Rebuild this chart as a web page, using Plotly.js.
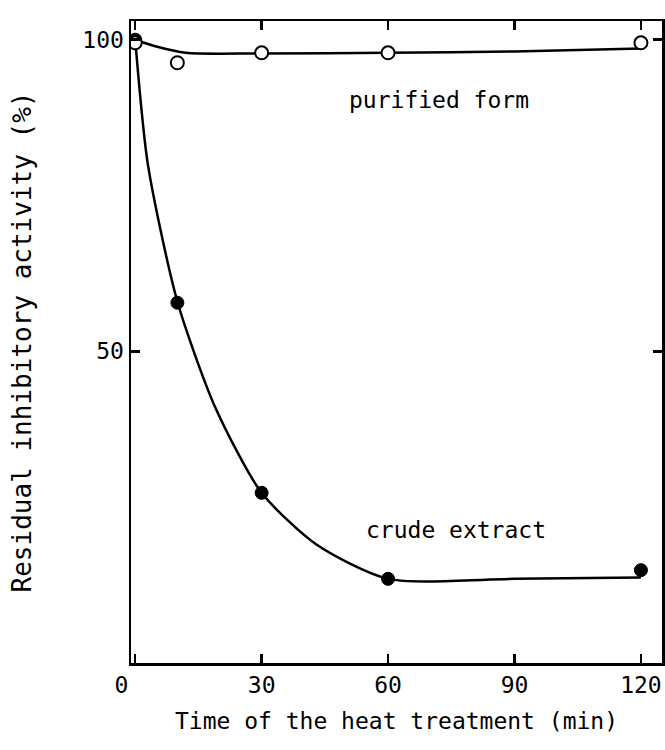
<!DOCTYPE html>
<html>
<head>
<meta charset="utf-8">
<script src="https://cdn.plot.ly/plotly-3.0.1.min.js"></script>
<style>
  html, body { margin: 0; padding: 0; background: #ffffff; }
  #chart { width: 665px; height: 750px; }
</style>
</head>
<body>
<div id="chart"></div>
<script>
// Measured points
const timeMin = [0, 10, 30, 60, 120];
const purifiedPct = [99.5, 96.3, 97.9, 97.9, 99.5];
const crudePct = [100, 57.8, 27.3, 13.5, 14.9];

// Hand-drawn fitted curves
const purifiedCurveX = [0, 5, 12, 30, 60, 90, 120];
const purifiedCurveY = [100, 98.9, 97.9, 97.8, 97.9, 98.1, 98.6];
const crudeCurveX = [0, 3, 10, 19, 30, 43, 60, 90, 120];
const crudeCurveY = [100, 80, 58, 41, 27.3, 19, 13.5, 13.5, 13.7];

// Axis ticks and labels
const xTicks = [0, 30, 60, 90, 120];
const yTicks = [50, 100];
const xTitle = "Time of the heat treatment (min)";
const yTitle = "Residual inhibitory activity (%)";
const labelPurified = "purified form";
const labelCrude = "crude extract";

const FONT = "DejaVu Sans Mono, Liberation Mono, monospace";
const NBSP = "\u00a0";

const traces = [
  {
    x: purifiedCurveX, y: purifiedCurveY, mode: "lines", type: "scatter",
    line: { color: "#000", width: 2.5, shape: "spline", smoothing: 0.8 },
    hoverinfo: "skip", showlegend: false
  },
  {
    x: crudeCurveX, y: crudeCurveY, mode: "lines", type: "scatter",
    line: { color: "#000", width: 2.5, shape: "spline", smoothing: 0.7 },
    hoverinfo: "skip", showlegend: false
  },
  {
    x: timeMin, y: crudePct, mode: "markers", type: "scatter",
    marker: { symbol: "circle", size: 13, color: "#000", line: { color: "#000", width: 1 } },
    showlegend: false
  },
  {
    x: timeMin, y: purifiedPct, mode: "markers", type: "scatter",
    marker: { symbol: "circle", size: 13, color: "#fff", line: { color: "#000", width: 2 } },
    showlegend: false
  }
];

const layout = {
  width: 665, height: 750,
  paper_bgcolor: "#fff", plot_bgcolor: "#fff",
  margin: { l: 131, r: 3, t: 21, b: 87 },
  font: { family: FONT, color: "#000", size: 23 },
  showlegend: false,
  xaxis: {
    range: [-1, 125],
    tickvals: xTicks,
    ticktext: xTicks.map((v, i) => i === 0 ? String(v) + NBSP + NBSP : String(v)),
    ticks: "inside", ticklen: 9, tickwidth: 2.5, tickcolor: "#000",
    showline: true, linecolor: "#000", linewidth: 2.5, mirror: "ticks",
    showgrid: false, zeroline: false,
    tickfont: { family: FONT, size: 23, color: "#000" },
    title: { text: xTitle, font: { family: FONT, size: 23, color: "#000" }, standoff: 16 }
  },
  yaxis: {
    range: [0, 103],
    tickvals: yTicks,
    ticktext: yTicks.map(String),
    ticks: "inside", ticklen: 9, tickwidth: 2.5, tickcolor: "#000",
    showline: true, linecolor: "#000", linewidth: 2.5, mirror: "ticks",
    showgrid: false, zeroline: false,
    tickfont: { family: FONT, size: 23, color: "#000" },
    title: { text: yTitle, font: { family: FONT, size: 26, color: "#000" }, standoff: 44 }
  },
  annotations: [
    { x: 72, y: 90.4, xref: "x", yref: "y", text: labelPurified, showarrow: false,
      font: { family: FONT, size: 23, color: "#000" } },
    { x: 76, y: 21.4, xref: "x", yref: "y", text: labelCrude, showarrow: false,
      font: { family: FONT, size: 23, color: "#000" } }
  ]
};

Plotly.newPlot("chart", traces, layout, { displayModeBar: false, staticPlot: true });
</script>
</body>
</html>
